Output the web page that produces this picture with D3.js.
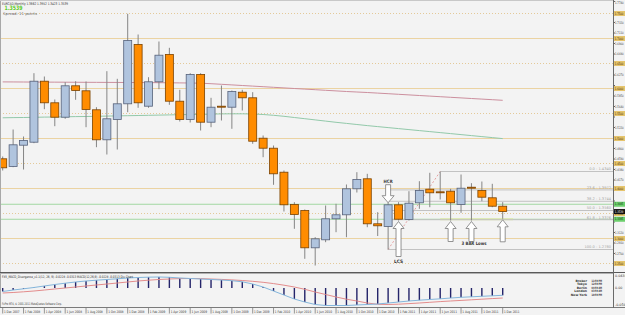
<!DOCTYPE html>
<html lang="en">
<head>
<meta charset="utf-8">
<title>EURCAD Monthly</title>
<script src="https://d3js.org/d3.v7.min.js"></script>
<style>
  body { margin: 0; background: #f3f3f3; font-family: "DejaVu Sans", sans-serif; }
  svg { display: block; }
</style>
</head>
<body>
<svg id="chart" width="625" height="315"></svg>
<script>
// monthly bars, Dec 2007 .. Dec 2011
var dateLabels = ["1 Dec 2007","1 Feb 2008","1 Apr 2008","1 Jun 2008","1 Aug 2008","1 Oct 2008","1 Dec 2008",
  "1 Feb 2009","1 Apr 2009","1 Jun 2009","1 Aug 2009","1 Oct 2009","1 Dec 2009","1 Feb 2010","1 Apr 2010",
  "1 Jun 2010","1 Aug 2010","1 Oct 2010","1 Dec 2010","1 Feb 2011","1 Apr 2011","1 Jun 2011","1 Aug 2011",
  "1 Oct 2011","1 Dec 2011"]

var opens  = [1.4594,1.4440,1.4866,1.4926,1.6146,1.5714,1.5426,1.6054,1.5954,1.5574,1.4974,1.5380,1.5694,1.6880,1.5646,1.6134,1.6680,1.5746,1.5380,1.6280,1.5326,1.5646,1.5626,1.5926,1.5814,1.5006,1.4806,1.4326,1.3680,1.3560,1.2814,1.2974,1.3394,1.3474,1.3994,1.4194,1.3294,1.3240,1.3674,1.3380,1.3714,1.3986,1.3934,1.3946,1.3680,1.4026,1.3960,1.3814,1.3646]
var highs  = [1.4640,1.5180,1.5040,1.6306,1.6240,1.5780,1.6126,1.6146,1.6140,1.5626,1.6346,1.6194,1.7494,1.7080,1.6226,1.6940,1.6814,1.5974,1.6306,1.6306,1.5814,1.6060,1.5960,1.5974,1.5926,1.5060,1.4860,1.4360,1.3726,1.3580,1.3026,1.3660,1.3694,1.4080,1.4326,1.4294,1.3526,1.3726,1.3726,1.3946,1.4146,1.4314,1.4340,1.3994,1.4280,1.4106,1.4140,1.4094,1.3726]
var lows   = [1.4360,1.4426,1.4380,1.4906,1.5586,1.5246,1.5394,1.5774,1.5226,1.4826,1.4680,1.4780,1.5526,1.5614,1.5614,1.5986,1.5674,1.5340,1.5320,1.5160,1.5226,1.5360,1.5194,1.5560,1.4894,1.4626,1.4074,1.3540,1.3194,1.2594,1.2460,1.2926,1.3126,1.3026,1.3920,1.3226,1.3050,1.2780,1.3360,1.3360,1.3594,1.3626,1.3780,1.3360,1.3514,1.3360,1.3746,1.3626,1.3394]
var closes = [1.4414,1.4874,1.4960,1.6146,1.5714,1.5426,1.6054,1.5960,1.5580,1.4974,1.5394,1.5694,1.6960,1.5714,1.6134,1.6666,1.5746,1.5380,1.6280,1.5326,1.5626,1.5634,1.5940,1.5814,1.4946,1.4806,1.4294,1.3674,1.3480,1.2814,1.2994,1.3394,1.3474,1.3994,1.4180,1.3294,1.3254,1.3674,1.3386,1.3706,1.3960,1.3914,1.3920,1.3714,1.4006,1.4020,1.3826,1.3646,1.3539]

// moving averages (red = slow, green = faster)
var maRed = [1.6132,1.6131,1.6130,1.6129,1.6128,1.6127,1.6126,1.6125,1.6124,1.6123,1.6122,1.6121,1.6120,1.6119,1.6118,1.6116,1.6114,1.6112,1.6110,1.6106,1.6096,1.6084,1.6072,1.6060,1.6048,1.6036,1.6024,1.6012,1.6000,1.5988,1.5976,1.5964,1.5952,1.5940,1.5930,1.5920,1.5908,1.5896,1.5884,1.5872,1.5860,1.5848,1.5836,1.5824,1.5812,1.5800,1.5788,1.5776,1.5764]
var maGreen = [1.5414,1.5418,1.5420,1.5424,1.5428,1.5430,1.5434,1.5438,1.5440,1.5444,1.5448,1.5452,1.5456,1.5460,1.5464,1.5468,1.5472,1.5476,1.5480,1.5484,1.5488,1.5492,1.5494,1.5494,1.5490,1.5480,1.5464,1.5444,1.5420,1.5396,1.5372,1.5348,1.5324,1.5302,1.5280,1.5258,1.5238,1.5218,1.5198,1.5178,1.5158,1.5138,1.5118,1.5098,1.5078,1.5058,1.5038,1.5018,1.4998]

// MACD sub window
var macdMain = [-0.0109,-0.0063,-0.0025,0.0016,0.0063,0.0109,0.0150,0.0188,0.0219,0.0244,0.0266,0.0288,0.0313,0.0328,0.0338,0.0344,0.0334,0.0313,0.0297,0.0281,0.0266,0.0250,0.0228,0.0194,0.0125,0.0031,-0.0094,-0.0219,-0.0344,-0.0438,-0.0516,-0.0547,-0.0547,-0.0547,-0.0531,-0.0516,-0.0500,-0.0469,-0.0438,-0.0406,-0.0381,-0.0359,-0.0338,-0.0313,-0.0291,-0.0275,-0.0259,-0.0244,-0.0228]
var macdSignal = [-0.0156,-0.0141,-0.0119,-0.0094,-0.0063,-0.0031,0.0000,0.0031,0.0063,0.0094,0.0125,0.0156,0.0188,0.0219,0.0244,0.0266,0.0281,0.0294,0.0297,0.0294,0.0281,0.0269,0.0253,0.0234,0.0209,0.0178,0.0138,0.0088,0.0031,-0.0041,-0.0125,-0.0203,-0.0281,-0.0350,-0.0406,-0.0469,-0.0509,-0.0516,-0.0506,-0.0488,-0.0469,-0.0447,-0.0425,-0.0406,-0.0388,-0.0369,-0.0350,-0.0331,-0.0313]
var macdTicks = ["0.0438", "0.00", "-0.0563"]
var macdTickVals = [0.04375, 0, -0.05625]

// right price scale and the drawn levels
var priceTicks = [1.7740,1.7530,1.7320,1.7110,1.6900,1.6690,1.6480,1.6270,1.6060,1.5850,1.5640,1.5430,1.5220,1.5010,1.4800,1.4590,1.4380,1.4170,1.3960,1.3750,1.3540,1.3330,1.3120,1.2910,1.2700,1.2490]
var solidLevels = [1.70, 1.60, 1.50, 1.40, 1.30]
var dottedLevels = [1.75, 1.65, 1.55, 1.45, 1.35, 1.25]
var greenLevels = [1.3685, 1.3385]
var bidPrice = 1.3539
var fibLevels = [0, 23.6, 38.2, 50, 61.8, 100]
var fibHigh = 1.4340, fibHighBar = 42
var fibLow = 1.2780, fibLowBar = 37
var upArrowBars = [38, 43, 45, 48]
var upArrowLens = [35, 20, 20, 22]
var downArrowBar = 37
var clockRows = [["Broker","11:59 PM"],["Tokyo","12:59 PM"],["Berlin","04:59 AM"],["London","03:59 AM"],["New York","10:59 PM"]]

var W = 625, H = 315, plotRight = 613, mainBottom = 272
var svg = d3.select("#chart")
var n = opens.length

var x = d3.scaleLinear().domain([0, n - 1]).range([2.7, 502.7])
var y = d3.scaleLinear().domain([1.233, 1.777]).range([mainBottom, 0])
var ym = d3.scaleLinear().domain([-0.05625, 0.04375]).range([306, 274])

svg.append("rect").attr("width", W).attr("height", H).attr("fill", "#f3f3f3")

svg.append("clipPath").attr("id", "mainClip").append("rect")
  .attr("x", 0).attr("y", 0).attr("width", plotRight).attr("height", mainBottom)
var main = svg.append("g").attr("clip-path", "url(#mainClip)")

// horizontal levels
var tan = "#ebd3a2"
main.selectAll(".lvl-d").data(dottedLevels).enter().append("line")
  .attr("x1", 0).attr("x2", plotRight).attr("y1", d => y(d)).attr("y2", d => y(d))
  .attr("stroke", "#e4c998").attr("stroke-dasharray", "1,2")
main.selectAll(".lvl-s").data(solidLevels).enter().append("line")
  .attr("x1", 0).attr("x2", plotRight).attr("y1", d => y(d)).attr("y2", d => y(d))
  .attr("stroke", tan)
main.selectAll(".lvl-g").data(greenLevels).enter().append("line")
  .attr("x1", 0).attr("x2", plotRight).attr("y1", d => y(d)).attr("y2", d => y(d))
  .attr("stroke", "#a2d8a2")
// yellow highlight along the lower green level
main.append("line")
  .attr("x1", x(fibHighBar)).attr("x2", x(n)).attr("y1", y(greenLevels[1])).attr("y2", y(greenLevels[1]))
  .attr("stroke", "#dde7a8").attr("stroke-width", 2.2)

// fibonacci levels
var fibPrice = function(l) { return fibHigh - (fibHigh - fibLow) * l / 100 }
main.selectAll(".fib").data(fibLevels).enter().append("line")
  .attr("x1", d => d == 0 ? x(fibHighBar) : x(fibLowBar)).attr("x2", plotRight)
  .attr("y1", d => y(fibPrice(d))).attr("y2", d => y(fibPrice(d)))
  .attr("stroke", "#c2c2c2")
main.selectAll(".fibtxt").data(fibLevels).enter().append("text")
  .attr("x", 611).attr("y", d => y(fibPrice(d)) - 1.2)
  .attr("text-anchor", "end").attr("font-size", 3.6).attr("fill", "#a6a6a6")
  .text(d => d.toFixed(1) + " - " + fibPrice(d).toFixed(4))
main.append("line")
  .attr("x1", x(fibLowBar)).attr("y1", y(fibLow)).attr("x2", x(fibHighBar)).attr("y2", y(fibHigh))
  .attr("stroke", "#e6a2a2").attr("stroke-dasharray", "2,2")

// moving averages
var maLine = d3.line().x((d, i) => x(i)).y(d => y(d))
main.append("path").attr("d", maLine(maRed)).attr("fill", "none").attr("stroke", "#cc8f9e").attr("stroke-width", 1)
main.append("path").attr("d", maLine(maGreen)).attr("fill", "none").attr("stroke", "#92c9aa").attr("stroke-width", 1)

// candles
var bars = d3.range(n)
main.selectAll(".wick").data(bars).enter().append("line")
  .attr("x1", i => x(i)).attr("x2", i => x(i))
  .attr("y1", i => y(highs[i])).attr("y2", i => y(lows[i]))
  .attr("stroke", "#858585").attr("stroke-width", 1)
main.selectAll(".body").data(bars).enter().append("rect")
  .attr("x", i => x(i) - 4).attr("width", 8)
  .attr("y", i => y(Math.max(opens[i], closes[i])))
  .attr("height", i => Math.max(1, Math.abs(y(opens[i]) - y(closes[i]))))
  .attr("fill", i => closes[i] >= opens[i] ? "#b0c4de" : "#ff8c00")
  .attr("stroke", i => closes[i] >= opens[i] ? "#56627a" : "#7a4200")
  .attr("stroke-width", 0.8)

// block arrows
var upArrow = function(cx, tip, len) {
  return "M" + cx + "," + tip + " L" + (cx + 5.5) + "," + (tip + 7) + " L" + (cx + 2.5) + "," + (tip + 7) +
    " L" + (cx + 2.5) + "," + (tip + len) + " L" + (cx - 2.5) + "," + (tip + len) + " L" + (cx - 2.5) + "," + (tip + 7) +
    " L" + (cx - 5.5) + "," + (tip + 7) + " Z"
}
main.selectAll(".uparrow").data(upArrowBars).enter().append("path")
  .attr("d", (b, k) => upArrow(x(b), y(lows[b]) + 1, upArrowLens[k]))
  .attr("fill", "#ffffff").attr("stroke", "#7a7a7a").attr("stroke-width", 0.8)
var dx = x(downArrowBar), dtip = y(highs[downArrowBar]) + 0.5
main.append("path")
  .attr("d", "M" + dx + "," + dtip + " L" + (dx + 6) + "," + (dtip - 7) + " L" + (dx + 2.5) + "," + (dtip - 7) +
    " L" + (dx + 2.5) + "," + (dtip - 18) + " L" + (dx - 2.5) + "," + (dtip - 18) + " L" + (dx - 2.5) + "," + (dtip - 7) +
    " L" + (dx - 6) + "," + (dtip - 7) + " Z")
  .attr("fill", "#ffffff").attr("stroke", "#7a7a7a").attr("stroke-width", 0.8)

var note = function(tx, ty, s, w) {
  main.append("text").attr("x", tx).attr("y", ty).attr("text-anchor", "middle")
    .attr("font-size", 4.6).attr("font-weight", "bold").attr("fill", "#333")
    .attr("textLength", w).attr("lengthAdjust", "spacingAndGlyphs").text(s)
}
note(dx, dtip - 19.5, "HCR", 9)
note(x(upArrowBars[0]), 263, "LCS", 9)
note(474, 245, "3 BAR Lows", 25)

// header texts
svg.append("text").attr("x", 2).attr("y", 4.5).attr("font-size", 3.6).attr("fill", "#333")
  .attr("textLength", 66).attr("lengthAdjust", "spacingAndGlyphs")
  .text("EURCAD,Monthly  1.3862 1.3952 1.3423 1.3539")
svg.append("text").attr("x", 4.5).attr("y", 9.8).attr("font-size", 6).attr("font-weight", "bold").attr("fill", "#5ccc1e")
  .attr("textLength", 18).attr("lengthAdjust", "spacingAndGlyphs").text("1.3539")
svg.append("text").attr("x", 3).attr("y", 15.3).attr("font-size", 3.8).attr("fill", "#666")
  .attr("textLength", 34).attr("lengthAdjust", "spacingAndGlyphs").text("Spread: 11 points")

// frames and separators
svg.append("line").attr("x1", 0.5).attr("x2", 0.5).attr("y1", 0).attr("y2", 308).attr("stroke", "#a8a8a8")
svg.append("line").attr("x1", 0).attr("x2", plotRight).attr("y1", 0.5).attr("y2", 0.5).attr("stroke", "#c8c8c8")
svg.append("line").attr("x1", 0).attr("x2", W).attr("y1", mainBottom + 0.5).attr("y2", mainBottom + 0.5).attr("stroke", "#5a5a5a")
svg.append("line").attr("x1", 0).attr("x2", plotRight).attr("y1", mainBottom + 1.5).attr("y2", mainBottom + 1.5).attr("stroke", "#b0b0b0")
svg.append("line").attr("x1", 0).attr("x2", W).attr("y1", 307.5).attr("y2", 307.5).attr("stroke", "#7a7a7a")
svg.append("line").attr("x1", plotRight + 0.5).attr("x2", plotRight + 0.5).attr("y1", 0).attr("y2", 308).attr("stroke", "#6a6a6a")

// right price axis; plain labels hidden under a level tag are skipped
var tagged = dottedLevels.concat(solidLevels, greenLevels, [bidPrice])
var freeTicks = priceTicks.filter(d => tagged.every(t => Math.abs(y(t) - y(d)) > 4))
var axisG = svg.append("g")
axisG.selectAll(".ptick").data(priceTicks).enter().append("line")
  .attr("x1", plotRight).attr("x2", plotRight + 2).attr("y1", d => y(d)).attr("y2", d => y(d)).attr("stroke", "#666")
axisG.selectAll(".plab").data(freeTicks).enter().append("text")
  .attr("x", plotRight + 2).attr("y", d => Math.max(4, y(d) + 1.2)).attr("font-size", 3.3).attr("fill", "#333")
  .attr("textLength", 8.6).attr("lengthAdjust", "spacingAndGlyphs").text(d => d.toFixed(4))

var tag = function(val, bg, fg) {
  axisG.append("rect").attr("x", plotRight + 1).attr("y", y(val) - 2.5).attr("width", 11).attr("height", 5).attr("fill", bg)
  axisG.append("text").attr("x", plotRight + 1.8).attr("y", y(val) + 1.2).attr("font-size", 3.3).attr("fill", fg)
    .attr("textLength", 8.6).attr("lengthAdjust", "spacingAndGlyphs").text(val.toFixed(4))
}
dottedLevels.concat(solidLevels).forEach(function(v) { tag(v, "#e6c46c", "#3a2a00") })
greenLevels.forEach(function(v) { tag(v, "#6ccf6c", "#0a2a0a") })
tag(bidPrice, "#111111", "#ffffff")

// MACD window
svg.append("clipPath").attr("id", "subClip").append("rect")
  .attr("x", 0).attr("y", 274).attr("width", plotRight).attr("height", 33)
var sub = svg.append("g").attr("clip-path", "url(#subClip)")
sub.selectAll(".hist").data(bars).enter().append("rect")
  .attr("x", i => x(i) - 0.7).attr("width", 1.4)
  .attr("y", i => Math.min(ym(0), ym(macdMain[i])))
  .attr("height", i => Math.abs(ym(macdMain[i]) - ym(0)))
  .attr("fill", "#24246a")
var mLine = d3.line().x((d, i) => x(i)).y(d => ym(d))
sub.append("path").attr("d", mLine(macdSignal)).attr("fill", "none").attr("stroke", "#e38c8c").attr("stroke-width", 1)
sub.append("path").attr("d", mLine(macdMain)).attr("fill", "none").attr("stroke", "#84b6dc").attr("stroke-width", 1)

svg.append("text").attr("x", 2).attr("y", 277.6).attr("font-size", 3.4).attr("fill", "#222")
  .attr("textLength", 131).attr("lengthAdjust", "spacingAndGlyphs")
  .text("FX5_MACD_Divergence_v1.1(12, 26, 9) -0.0228 -0.0313  MACD(12,26,9) -0.0228 -0.0313  Div Chart")
svg.append("text").attr("x", 2).attr("y", 304.8).attr("font-size", 3.4).attr("fill", "#333")
  .attr("textLength", 60).attr("lengthAdjust", "spacingAndGlyphs")
  .text("FxPro MT4, © 2001-2011 MetaQuotes Software Corp.")

var clockG = svg.append("g").attr("font-size", 3.1).attr("font-weight", "bold").attr("fill", "#333")
clockG.selectAll(".ck1").data(clockRows).enter().append("text")
  .attr("x", 587).attr("y", (d, k) => 282 + k * 3.4).attr("text-anchor", "end").text(d => d[0])
clockG.selectAll(".ck2").data(clockRows).enter().append("text")
  .attr("x", 591.5).attr("y", (d, k) => 282 + k * 3.4)
  .attr("textLength", 10.5).attr("lengthAdjust", "spacingAndGlyphs").text(d => d[1])

axisG.selectAll(".mlab").data(macdTicks).enter().append("text")
  .attr("x", plotRight + 2).attr("y", (d, k) => Math.min(306, Math.max(277, ym(macdTickVals[k]) + 1.3)))
  .attr("font-size", 3.3).attr("fill", "#333").text(d => d)

// date axis, one label every two bars
var dateG = svg.append("g")
dateG.selectAll(".dtick").data(dateLabels).enter().append("line")
  .attr("x1", (d, k) => x(k * 2)).attr("x2", (d, k) => x(k * 2)).attr("y1", 308).attr("y2", 313.5)
  .attr("stroke", "#555").attr("stroke-width", 0.6)
dateG.selectAll(".dlab").data(dateLabels).enter().append("text")
  .attr("x", (d, k) => x(k * 2) + 1.3).attr("y", 313).attr("font-size", 3.4).attr("fill", "#333")
  .attr("textLength", 15.5).attr("lengthAdjust", "spacingAndGlyphs").text(d => d)
</script>
</body>
</html>
